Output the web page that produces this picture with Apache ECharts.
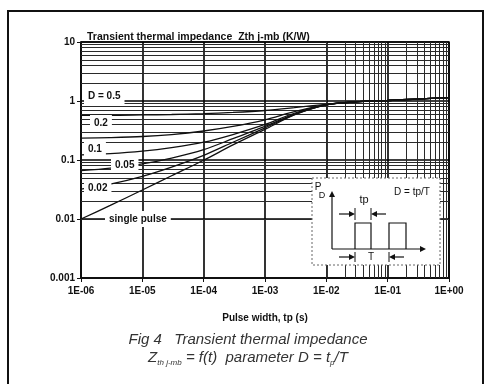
<!DOCTYPE html>
<html>
<head>
<meta charset="utf-8">
<script src="https://cdn.jsdelivr.net/npm/echarts@6/dist/echarts.min.js"></script>
<style>html,body{margin:0;padding:0;background:#fff;}#c{width:491px;height:384px;}</style>
</head>
<body>
<div id="c"></div>
<script>
// Pulse widths (s)
const tp = [1e-6, 3e-6, 1e-5, 3e-5, 1e-4, 3e-4, 1e-3, 3e-3, 1e-2, 3e-2, 1e-1, 3e-1, 1];
// Zth j-mb (K/W) per duty cycle
const zD05   = [0.57, 0.57, 0.58, 0.59, 0.61, 0.64, 0.69, 0.77, 0.88, 0.97, 1.02, 1.08, 1.14];
const zD02   = [0.235, 0.24, 0.25, 0.27, 0.31, 0.37, 0.48, 0.66, 0.87, 0.97, 1.02, 1.08, 1.14];
const zD01   = [0.122, 0.128, 0.141, 0.162, 0.20, 0.27, 0.40, 0.62, 0.865, 0.97, 1.02, 1.08, 1.14];
const zD005  = [0.066, 0.073, 0.086, 0.108, 0.15, 0.23, 0.37, 0.60, 0.86, 0.97, 1.02, 1.08, 1.14];
const zD002  = [0.032, 0.039, 0.053, 0.076, 0.12, 0.20, 0.35, 0.59, 0.86, 0.97, 1.02, 1.08, 1.14];
const zSingle= [0.010, 0.017, 0.031, 0.054, 0.099, 0.18, 0.33, 0.58, 0.86, 0.97, 1.02, 1.08, 1.14];
const seriesNames = ['D = 0.5', '0.2', '0.1', '0.05', '0.02', 'single pulse'];
const seriesValues = [zD05, zD02, zD01, zD005, zD002, zSingle];
// Tick labels
const xTickLabels = ['1E-06', '1E-05', '1E-04', '1E-03', '1E-02', '1E-01', '1E+00'];
const yTickLabels = ['0.001', '0.01', '0.1', '1', '10'];

const xMinorGrid = [];
for (let e = -6; e < 0; e++) for (let k = 2; k <= 9; k++) xMinorGrid.push(k * Math.pow(10, e));
const yMinorGrid = [];
for (let e = -3; e < 1; e++) for (let k = 2; k <= 9; k++) yMinorGrid.push(k * Math.pow(10, e));

const chart = echarts.init(document.getElementById('c'), null, {renderer: 'canvas'});

const curveSeries = seriesValues.map((vals, i) => ({
  name: seriesNames[i],
  type: 'line',
  smooth: 0.3,
  symbol: 'none',
  z: 5,
  lineStyle: {color: '#111', width: 1.3},
  data: tp.map((t, j) => [t, vals[j]])
}));

const gridSeries = {
  name: 'grid',
  type: 'line',
  symbol: 'none',
  silent: true,
  z: 1,
  lineStyle: {opacity: 0},
  data: [[tp[0], zSingle[0]]],
  markLine: {
    silent: true,
    symbol: 'none',
    animation: false,
    label: {show: false},
    lineStyle: {color: '#2a2a2a', width: 1, type: 'solid'},
    data: xMinorGrid.map(v => ({xAxis: v})).concat(yMinorGrid.map(v => ({yAxis: v})))
  }
};

const lbl = (text, x, y) => ({
  type: 'text', left: x, top: y, z: 50,
  style: {text: text, font: 'bold 10px "Liberation Sans", Arial, sans-serif', fill: '#111',
    backgroundColor: '#fff', padding: [3, 4, 3, 4]}
});

const arrowHead = (x, y, dir) => {
  let pts;
  if (dir === 'r') pts = [[x, y], [x - 6, y - 3], [x - 6, y + 3]];
  else if (dir === 'l') pts = [[x, y], [x + 6, y - 3], [x + 6, y + 3]];
  else pts = [[x, y], [x - 3, y + 6], [x + 3, y + 6]];
  return {type: 'polygon', z: 60, shape: {points: pts}, style: {fill: '#111'}};
};
const seg = (x1, y1, x2, y2, w) => ({type: 'line', z: 60, shape: {x1, y1, x2, y2}, style: {stroke: '#111', lineWidth: w || 1.2}});
const txt = (text, x, y, size) => ({type: 'text', z: 60, x: x, y: y,
  style: {text: text, font: (size || 10) + 'px "Liberation Sans", Arial, sans-serif', fill: '#111', textAlign: 'center', textVerticalAlign: 'middle'}});

chart.setOption({
  animation: false,
  backgroundColor: '#fff',
  title: {
    text: 'Transient thermal impedance  Zth j-mb (K/W)',
    left: 82, top: 27,
    textStyle: {fontFamily: '"Liberation Sans", Arial, sans-serif', fontSize: 10.5, fontWeight: 'bold', color: '#111'}
  },
  grid: {left: 81, right: 42, top: 42, bottom: 106, show: true, borderColor: '#111', borderWidth: 1.5, backgroundColor: 'transparent'},
  xAxis: {
    type: 'log', logBase: 10, min: 1e-6, max: 1, splitNumber: 6,
    name: 'Pulse width, tp (s)', nameLocation: 'middle', nameGap: 35,
    nameTextStyle: {fontFamily: '"Liberation Sans", Arial, sans-serif', fontSize: 10, fontWeight: 'bold', color: '#111'},
    axisLine: {lineStyle: {color: '#111', width: 1.5}},
    axisTick: {show: true, inside: false, length: 4, lineStyle: {color: '#111'}},
    axisLabel: {
      margin: 8, color: '#111', fontFamily: '"Liberation Sans", Arial, sans-serif', fontSize: 10, fontWeight: 'bold',
      formatter: v => xTickLabels[Math.round(Math.log10(v)) + 6] || ''
    },
    splitLine: {show: true, lineStyle: {color: '#000', width: 1.6}}
  },
  yAxis: {
    type: 'log', logBase: 10, min: 0.001, max: 10, splitNumber: 4,
    axisLine: {lineStyle: {color: '#111', width: 1.5}},
    axisTick: {show: true, inside: false, length: 4, lineStyle: {color: '#111'}},
    axisLabel: {
      margin: 6, color: '#111', fontFamily: '"Liberation Sans", Arial, sans-serif', fontSize: 10, fontWeight: 'bold',
      formatter: v => yTickLabels[Math.round(Math.log10(v)) + 3] || ''
    },
    splitLine: {show: true, lineStyle: {color: '#000', width: 1.6}}
  },
  series: [gridSeries].concat(curveSeries),
  graphic: [
    {type: 'rect', z: 40, shape: {x: 8, y: 11, width: 475, height: 385}, style: {fill: 'none', stroke: '#111', lineWidth: 2}},
    lbl('D = 0.5', 84, 88),
    lbl('0.2', 90, 115),
    lbl('0.1', 84, 141),
    lbl('0.05', 111, 157),
    lbl('0.02', 84, 180),
    lbl('single pulse', 105, 211),
    {type: 'rect', z: 55, shape: {x: 312, y: 178, width: 128, height: 87}, style: {fill: '#fff', stroke: '#666', lineWidth: 1, lineDash: [2, 2]}},
    txt('P', 318, 187, 10),
    txt('D', 322, 196, 9),
    seg(332, 249, 332, 196),
    arrowHead(332, 191, 'u'),
    seg(332, 249, 420, 249),
    arrowHead(426, 249, 'r'),
    {type: 'polyline', z: 60, shape: {points: [[355, 249], [355, 223], [371, 223], [371, 249]]}, style: {stroke: '#111', lineWidth: 1.2, fill: 'none'}},
    {type: 'polyline', z: 60, shape: {points: [[389, 249], [389, 223], [406, 223], [406, 249]]}, style: {stroke: '#111', lineWidth: 1.2, fill: 'none'}},
    txt('tp', 364, 200, 11),
    txt('D = tp/T', 412, 192, 10),
    seg(339, 214, 349, 214), arrowHead(355, 214, 'r'), seg(355, 208, 355, 220, 1),
    seg(377, 214, 386, 214), arrowHead(371, 214, 'l'), seg(371, 208, 371, 220, 1),
    seg(339, 257, 349, 257), arrowHead(355, 257, 'r'), seg(355, 252, 355, 262, 1),
    txt('T', 371, 257, 10),
    seg(395, 257, 404, 257), arrowHead(389, 257, 'l'), seg(389, 252, 389, 262, 1),
    {type: 'text', z: 60, x: 248, y: 340, style: {text: 'Fig 4   Transient thermal impedance', font: 'italic 15px "Liberation Sans", Arial, sans-serif', fill: '#333', textAlign: 'center', textVerticalAlign: 'middle'}},
    {type: 'text', z: 60, x: 248, y: 358, style: {
      text: '{n|Z}{s|th j-mb}{n| = f(t)  parameter D = t}{s|p}{n|/T}',
      textAlign: 'center', textVerticalAlign: 'middle',
      rich: {
        n: {font: 'italic 15px "Liberation Sans", Arial, sans-serif', fill: '#333', verticalAlign: 'top', lineHeight: 18, height: 18},
        s: {font: 'italic 8px "Liberation Sans", Arial, sans-serif', fill: '#333', verticalAlign: 'bottom', lineHeight: 10, padding: [10, 0, 0, 0]}
      }
    }}
  ]
});
</script>
</body>
</html>
